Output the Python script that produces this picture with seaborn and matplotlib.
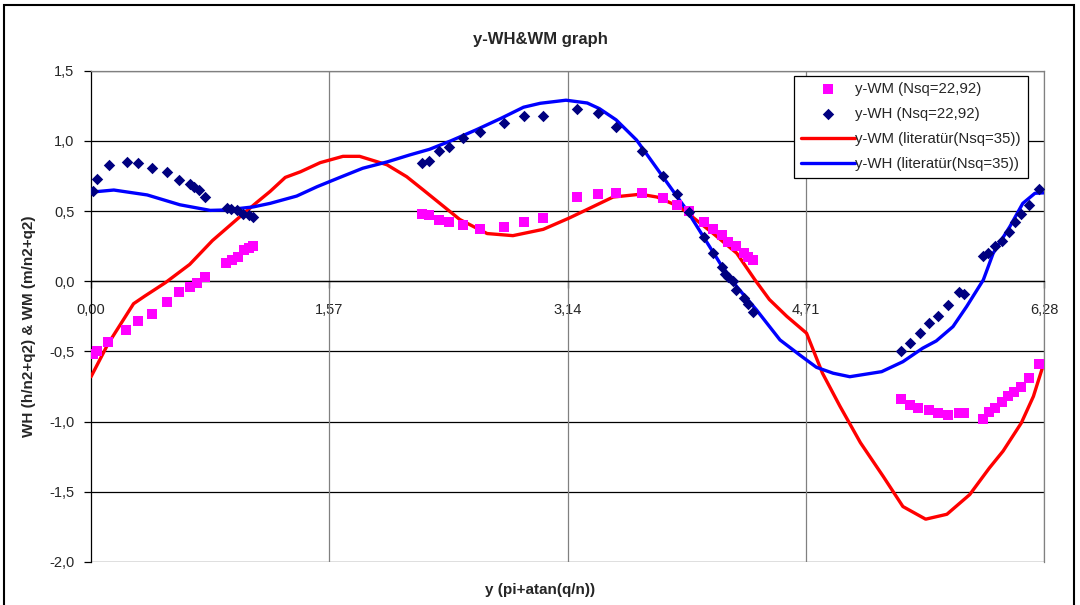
import matplotlib
matplotlib.use("Agg")
import matplotlib.pyplot as plt
import matplotlib.patches as patches
from matplotlib.ticker import FuncFormatter
import seaborn as sns

# olculen noktalar (Nsq=22,92)
wm_x = [0.01, 0.04, 0.11, 0.23, 0.31, 0.40, 0.50, 0.58, 0.65, 0.70, 0.75, 0.89, 0.93, 0.97, 1.01, 1.04, 1.07,
        2.18, 2.23, 2.29, 2.36, 2.45, 2.56, 2.72, 2.85, 2.98, 3.20, 3.34, 3.46, 3.63, 3.77, 3.86, 3.94,
        4.04, 4.10, 4.16, 4.20, 4.25, 4.30, 4.33, 4.36,
        5.34, 5.40, 5.45, 5.52, 5.58, 5.65, 5.72, 5.75, 5.88, 5.92, 5.96, 6.00, 6.04, 6.08, 6.13, 6.18, 6.25]
wm_y = [-0.52, -0.50, -0.43, -0.35, -0.28, -0.23, -0.15, -0.08, -0.04, -0.01, 0.03, 0.13, 0.15, 0.17, 0.22, 0.24, 0.25,
        0.48, 0.47, 0.44, 0.42, 0.40, 0.37, 0.39, 0.42, 0.45, 0.60, 0.62, 0.63, 0.63, 0.59, 0.54, 0.50,
        0.42, 0.37, 0.33, 0.28, 0.25, 0.20, 0.17, 0.15,
        -0.84, -0.88, -0.90, -0.92, -0.94, -0.95, -0.94, -0.94, -0.98, -0.93, -0.90, -0.86, -0.82, -0.79, -0.75, -0.69, -0.59]

wh_x = [0.015, 0.04, 0.12, 0.235, 0.31, 0.40, 0.50, 0.58, 0.65, 0.68, 0.71, 0.75, 0.895, 0.925, 0.96, 1.00, 1.04, 1.07,
        2.18, 2.23, 2.29, 2.36, 2.45, 2.56, 2.72, 2.85, 2.98, 3.20, 3.34, 3.46, 3.63, 3.77, 3.86, 3.94,
        4.04, 4.10, 4.155, 4.18, 4.20, 4.23, 4.25, 4.30, 4.33, 4.36,
        5.34, 5.40, 5.46, 5.52, 5.58, 5.65, 5.72, 5.75, 5.88, 5.91, 5.96, 6.00, 6.05, 6.09, 6.13, 6.18, 6.25]
wh_y = [0.64, 0.73, 0.83, 0.85, 0.84, 0.81, 0.78, 0.72, 0.69, 0.67, 0.65, 0.60, 0.52, 0.515, 0.505, 0.48, 0.47, 0.46,
        0.845, 0.86, 0.93, 0.96, 1.02, 1.06, 1.13, 1.18, 1.175, 1.23, 1.20, 1.10, 0.93, 0.75, 0.62, 0.49,
        0.315, 0.20, 0.10, 0.05, 0.03, 0.00, -0.06, -0.12, -0.16, -0.22,
        -0.50, -0.44, -0.37, -0.30, -0.25, -0.17, -0.08, -0.09, 0.18, 0.20, 0.25, 0.29, 0.35, 0.42, 0.48, 0.54, 0.66]

# literatur egrileri (Nsq=35)
lit_wm_x = [0.00, 0.11, 0.28, 0.355, 0.49, 0.65, 0.80, 0.96, 1.09, 1.18, 1.28, 1.38, 1.51, 1.66, 1.77, 1.95, 2.08,
            2.19, 2.43, 2.61, 2.78, 2.98, 3.15, 3.44, 3.62, 3.73, 3.88, 4.10, 4.255, 4.375, 4.47, 4.585, 4.715,
            4.82, 4.935, 5.07, 5.22, 5.35, 5.50, 5.64, 5.79, 5.92, 6.01, 6.13, 6.21, 6.28]
lit_wm_y = [-0.68, -0.45, -0.16, -0.105, -0.01, 0.12, 0.29, 0.44, 0.56, 0.64, 0.74, 0.78, 0.845, 0.89, 0.89, 0.83, 0.745,
            0.65, 0.44, 0.34, 0.325, 0.37, 0.45, 0.60, 0.62, 0.60, 0.53, 0.34, 0.20, 0.01, -0.13, -0.25, -0.37,
            -0.655, -0.89, -1.15, -1.39, -1.605, -1.695, -1.66, -1.52, -1.33, -1.21, -1.01, -0.82, -0.58]

lit_wh_x = [0.00, 0.15, 0.37, 0.585, 0.785, 0.89, 1.07, 1.18, 1.355, 1.49, 1.64, 1.79, 1.95, 2.10, 2.23, 2.37, 2.54,
            2.70, 2.85, 2.96, 3.13, 3.27, 3.35, 3.46, 3.595, 3.705, 3.815, 3.925, 4.035, 4.145, 4.255, 4.385, 4.54,
            4.67, 4.78, 4.89, 5.00, 5.21, 5.35, 5.48, 5.57, 5.68, 5.77, 5.88, 5.945, 6.055, 6.14, 6.22, 6.28]
lit_wh_y = [0.635, 0.65, 0.615, 0.545, 0.505, 0.508, 0.53, 0.555, 0.607, 0.674, 0.74, 0.805, 0.85, 0.90, 0.94, 1.00, 1.08,
            1.16, 1.24, 1.268, 1.29, 1.27, 1.23, 1.15, 1.006, 0.84, 0.674, 0.508, 0.318, 0.128, -0.038, -0.204, -0.418,
            -0.525, -0.613, -0.655, -0.68, -0.644, -0.573, -0.477, -0.425, -0.323, -0.18, 0.01, 0.20, 0.39, 0.555, 0.627, 0.63]

x_ticks = [0.00, 1.57, 3.14, 4.71, 6.28]
y_ticks = [1.5, 1.0, 0.5, 0.0, -0.5, -1.0, -1.5, -2.0]

sns.set_style("white")
plt.rcParams["font.family"] = ["Liberation Sans", "DejaVu Sans"]

fig = plt.figure(figsize=(10.8, 6.05), dpi=100)
ax = fig.add_axes([0.0843, 0.0711, 0.8824, 0.812])

sns.lineplot(x=lit_wm_x, y=lit_wm_y, ax=ax, color="#FF0000", linewidth=2.4, sort=False,
             estimator=None, label="y-WM (literatür(Nsq=35))", zorder=3)
sns.lineplot(x=lit_wh_x, y=lit_wh_y, ax=ax, color="#0000FF", linewidth=2.4, sort=False,
             estimator=None, label="y-WH (literatür(Nsq=35))", zorder=3)
sns.scatterplot(x=wm_x, y=wm_y, ax=ax, marker="s", color="#FF00FF", s=48, linewidth=0,
                label="y-WM (Nsq=22,92)", zorder=4)
sns.scatterplot(x=wh_x, y=wh_y, ax=ax, marker="D", color="#000080", s=34, linewidth=0,
                label="y-WH (Nsq=22,92)", zorder=5)

ax.set_xlim(0, 6.28)
ax.set_ylim(-2.0, 1.5)
ax.set_xticks(x_ticks)
ax.set_yticks(y_ticks)
ax.xaxis.set_major_formatter(FuncFormatter(lambda v, p: f"{v:.2f}".replace(".", ",")))
ax.yaxis.set_major_formatter(FuncFormatter(lambda v, p: f"{v:.1f}".replace(".", ",")))

for y in y_ticks:
    ax.axhline(y, color="#000000", linewidth=0.9, zorder=1)
for x in x_ticks[1:]:
    ax.axvline(x, color="#808080", linewidth=0.9, zorder=1)

ax.spines["bottom"].set_position(("data", 0))
ax.spines["bottom"].set_color("black")
ax.spines["left"].set_color("black")
ax.spines["top"].set_color("#808080")
ax.spines["right"].set_color("#808080")
for s in ax.spines.values():
    s.set_linewidth(0.9)
ax.tick_params(axis="both", direction="out", length=5, width=0.9, color="black",
               labelsize=10.5, bottom=True, left=True)
ax.tick_params(axis="x", pad=11)
ax.tick_params(axis="y", pad=7)

ax.set_xlabel("")
ax.set_ylabel("")
fig.text(0.5, 0.934, "y-WH&WM graph", ha="center", va="center", fontsize=12, fontweight="bold")
fig.text(0.5, 0.024, "y (pi+atan(q/n))", ha="center", va="center", fontsize=11, fontweight="bold")
fig.text(0.027, 0.46, "WH (h/n2+q2) & WM (m/n2+q2)", ha="center", va="center", rotation=90,
         fontsize=11, fontweight="bold")

handles, labels = ax.get_legend_handles_labels()
order = [2, 3, 0, 1]
leg = ax.legend([handles[i] for i in order], [labels[i] for i in order],
                loc="upper right", bbox_to_anchor=(0.983, 0.99), borderaxespad=0,
                fontsize=10.8, frameon=True, fancybox=False, framealpha=1,
                edgecolor="black", handlelength=3.6, handletextpad=0.05,
                labelspacing=0.72, borderpad=0.45)
leg.get_frame().set_linewidth(0.9)

fig.patches.append(patches.Rectangle((0.004, -0.05), 0.99, 1.042, transform=fig.transFigure,
                                     fill=False, edgecolor="black", linewidth=1.5))

fig.savefig("out.png", dpi=100)
